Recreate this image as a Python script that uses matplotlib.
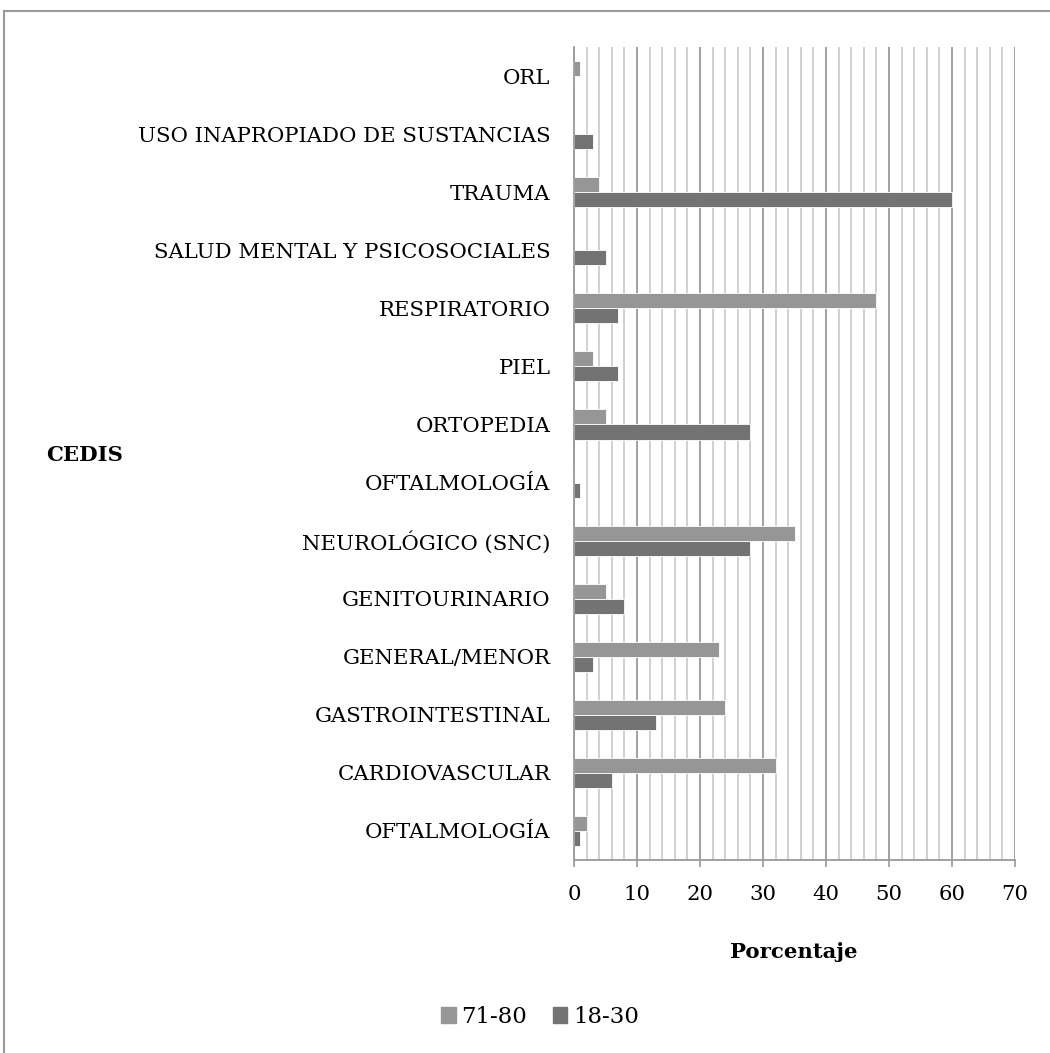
import numpy as np
import matplotlib
matplotlib.use("Agg")
import matplotlib.pyplot as plt
from matplotlib.lines import Line2D
from matplotlib.patches import Patch
from matplotlib.ticker import MultipleLocator

# categories, bottom to top as drawn
categorias = ["OFTALMOLOGÍA", "CARDIOVASCULAR", "GASTROINTESTINAL", "GENERAL/MENOR",
              "GENITOURINARIO", "NEUROLÓGICO (SNC)", "OFTALMOLOGÍA", "ORTOPEDIA",
              "PIEL", "RESPIRATORIO", "SALUD MENTAL Y PSICOSOCIALES", "TRAUMA",
              "USO INAPROPIADO DE SUSTANCIAS", "ORL"]
edad_71_80 = [2, 32, 24, 23, 5, 35, 0, 5, 3, 48, 0, 4, 0, 1]
edad_18_30 = [1, 6, 13, 3, 8, 28, 1, 28, 7, 7, 5, 60, 3, 0]
xticks = [0, 10, 20, 30, 40, 50, 60, 70]

plt.rcParams['font.family'] = ['DejaVu Serif']
fs = 15.3

fig = plt.figure(figsize=(10.5, 10.53), dpi=100)
W, H = 1050, 1053
ax = fig.add_axes([574 / W, 1 - 860 / H, (1015 - 574) / W, (860 - 47) / H])

y = np.arange(len(categorias))
h = 0.26
c_light = "#969696"
c_dark = "#737373"
ax.barh(y + h / 2, edad_71_80, height=h, color=c_light, edgecolor="white", linewidth=0.6, zorder=3)
ax.barh(y - h / 2, edad_18_30, height=h, color=c_dark, edgecolor="white", linewidth=0.6, zorder=3)

ax.set_xlim(0, 70)
ax.set_ylim(-0.5, len(categorias) - 0.5)
ax.xaxis.set_minor_locator(MultipleLocator(2))
ax.set_xticks(xticks)
ax.grid(axis="x", which="minor", color="#c8c8c8", linewidth=1.2, zorder=1)
ax.grid(axis="x", which="major", color="#9a9a9a", linewidth=1.3, zorder=2)

ax.set_yticks(y)
ax.set_yticklabels(categorias, fontsize=fs)
ax.tick_params(axis="y", length=0, pad=17)
ax.tick_params(axis="x", which="major", length=5, width=1.2, color="#9a9a9a", labelsize=fs, pad=13)
ax.tick_params(axis="x", which="minor", length=0)

for s in ["top", "right"]:
    ax.spines[s].set_visible(False)
for s in ["left", "bottom"]:
    ax.spines[s].set_color("#9a9a9a")
    ax.spines[s].set_linewidth(1.3)
    ax.spines[s].set_zorder(5)

fig.text(794 / W, 1 - 952 / H, "Porcentaje", fontsize=fs, fontweight="bold",
         ha="center", va="center")
fig.text(85 / W, 1 - 455 / H, "CEDIS", fontsize=fs, fontweight="bold",
         ha="center", va="center")

handles = [Patch(color=c_light, label="71-80"), Patch(color=c_dark, label="18-30")]
fig.legend(handles=handles, loc="center", bbox_to_anchor=(540 / W, 1 - 1017 / H),
           ncol=2, frameon=False, fontsize=16.5, handlelength=0.65, handleheight=0.65,
           handletextpad=0.25, columnspacing=1.1)

# outer chart frame (top and left edges visible)
fig.add_artist(Line2D([4 / W, 1], [1 - 11 / H, 1 - 11 / H], color="#9a9a9a", lw=1.5, transform=fig.transFigure))
fig.add_artist(Line2D([4 / W, 4 / W], [0, 1 - 11 / H], color="#9a9a9a", lw=1.5, transform=fig.transFigure))

fig.savefig("out.png", dpi=100)
